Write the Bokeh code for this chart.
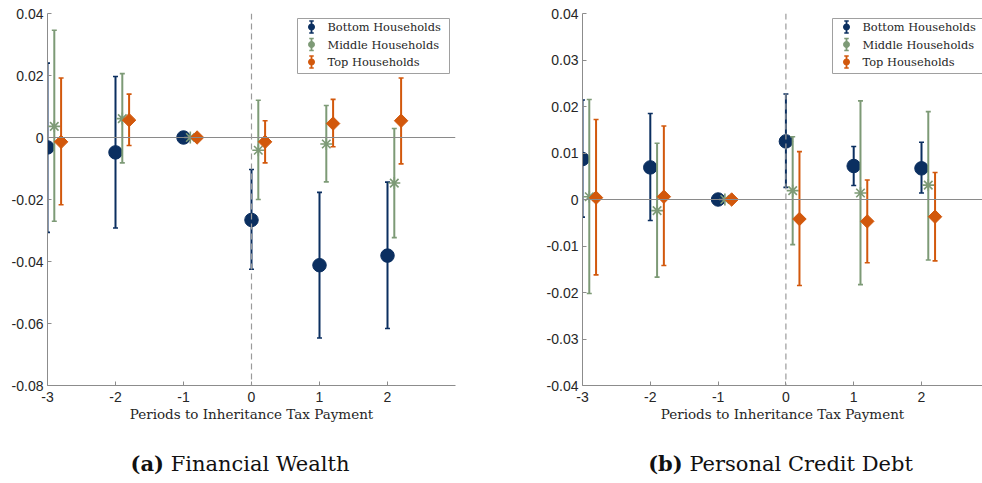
import numpy as np
from bokeh.plotting import figure
from bokeh.models import Span, FixedTicker, Range1d, Div, ColumnDataSource
from bokeh.layouts import row, column
from bokeh.core.properties import value
from bokeh.embed import file_html
from bokeh.resources import INLINE

# ---------------- data ----------------
periods = [-3, -2, -1, 0, 1, 2]
x_tick_labels = ["-3", "-2", "-1", "0", "1", "2"]
series_names = ["Bottom Households", "Middle Households", "Top Households"]

# (a) Financial Wealth
fw_bottom = [-0.0032, -0.0048, 0.0, -0.0266, -0.0412, -0.0381]
fw_bottom_lo = [-0.0306, -0.0292, 0.0, -0.0425, -0.0647, -0.0616]
fw_bottom_hi = [0.0240, 0.0197, 0.0, -0.0103, -0.0177, -0.0144]
fw_middle = [0.0036, 0.0061, 0.0, -0.0041, -0.0021, -0.0147]
fw_middle_lo = [-0.0270, -0.0082, 0.0, -0.0200, -0.0143, -0.0323]
fw_middle_hi = [0.0346, 0.0206, 0.0, 0.0120, 0.0103, 0.0029]
fw_top = [-0.0014, 0.0056, 0.0, -0.0014, 0.0045, 0.0054]
fw_top_lo = [-0.0217, -0.0026, 0.0, -0.0082, -0.0030, -0.0085]
fw_top_hi = [0.0192, 0.0140, 0.0, 0.0054, 0.0123, 0.0192]
fw_y_ticks = [-0.08, -0.06, -0.04, -0.02, 0.0, 0.02, 0.04]
fw_y_labels = ["-0.08", "-0.06", "-0.04", "-0.02", "0", "0.02", "0.04"]

# (b) Personal Credit Debt
cd_bottom = [0.0087, 0.0069, 0.0, 0.0125, 0.0072, 0.0067]
cd_bottom_lo = [-0.0038, -0.0045, 0.0, 0.0026, 0.0030, 0.0014]
cd_bottom_hi = [0.0214, 0.0185, 0.0, 0.0227, 0.0114, 0.0123]
cd_middle = [0.0006, -0.0024, 0.0, 0.0019, 0.0014, 0.0031]
cd_middle_lo = [-0.0202, -0.0167, 0.0, -0.0097, -0.0183, -0.0130]
cd_middle_hi = [0.0215, 0.0121, 0.0, 0.0135, 0.0212, 0.0189]
cd_top = [0.0004, 0.0006, 0.0, -0.0042, -0.0047, -0.0037]
cd_top_lo = [-0.0162, -0.0142, 0.0, -0.0185, -0.0136, -0.0132]
cd_top_hi = [0.0172, 0.0158, 0.0, 0.0103, 0.0042, 0.0058]
cd_y_ticks = [-0.04, -0.03, -0.02, -0.01, 0.0, 0.01, 0.02, 0.03, 0.04]
cd_y_labels = ["-0.04", "-0.03", "-0.02", "-0.01", "0", "0.01", "0.02", "0.03", "0.04"]

# ---------------- style ----------------
COLORS = ["#0b2f60", "#7d9a76", "#d2580c"]
OFFSETS = [0.0, 0.1, 0.2]
TICK_FONT = "Liberation Sans"
SERIF = "DejaVu Serif"
TXT = "#262626"
AX = "#8c8c8c"


def make_panel(series, y_start, y_end, y_ticks, y_labels, x_end, frame_w,
               border_left, border_right):
    W = border_left + frame_w + border_right
    H = 440
    top_b, bot_b = 13, 55
    frame_h = H - top_b - bot_b
    x_start = -3.0
    p = figure(width=W, height=H, output_backend="svg", toolbar_location=None,
               x_range=Range1d(x_start, x_end), y_range=Range1d(y_start, y_end),
               min_border_left=border_left, min_border_right=border_right,
               min_border_top=top_b, min_border_bottom=bot_b)
    p.xgrid.visible = False
    p.ygrid.visible = False
    p.outline_line_color = None
    p.background_fill_color = "white"
    p.border_fill_color = "white"

    for ax in (p.xaxis[0], p.yaxis[0]):
        ax.axis_line_color = AX
        ax.major_tick_line_color = AX
        ax.minor_tick_line_color = None
        ax.major_tick_in = 4
        ax.major_tick_out = 0
        ax.major_label_text_font = TICK_FONT
        ax.major_label_text_font_size = "14px"
        ax.major_label_text_color = TXT
    p.xaxis.ticker = FixedTicker(ticks=periods)
    p.xaxis.major_label_overrides = {k: v for k, v in zip(periods, x_tick_labels)}
    p.xaxis.major_label_standoff = 6
    p.xaxis.axis_label = "Periods to Inheritance Tax Payment"
    p.xaxis.axis_label_text_font = SERIF
    p.xaxis.axis_label_text_font_style = "normal"
    p.xaxis.axis_label_text_font_size = "13.5px"
    p.xaxis.axis_label_text_color = TXT
    p.xaxis.axis_label_standoff = 1
    p.yaxis.ticker = FixedTicker(ticks=y_ticks)
    p.yaxis.major_label_overrides = {k: v for k, v in zip(y_ticks, y_labels)}
    p.yaxis.major_label_standoff = 4

    p.add_layout(Span(location=0, dimension="width", line_color="#8a8a8a", line_width=1.2))
    p.add_layout(Span(location=0, dimension="height", line_color="#9a9a9a",
                      line_width=1.2, line_dash="6 4"))

    for i, (y, lo, hi) in enumerate(series):
        xs = [x + OFFSETS[i] for x in periods]
        src = ColumnDataSource(dict(x=xs, y=y, lo=lo, hi=hi))
        c = COLORS[i]
        p.segment(x0="x", y0="lo", x1="x", y1="hi", source=src, line_color=c, line_width=2)
        p.scatter(x="x", y="lo", source=src, marker="dash", size=5, line_color=c, line_width=1.6)
        p.scatter(x="x", y="hi", source=src, marker="dash", size=5, line_color=c, line_width=1.6)
        if i == 0:
            p.scatter(x="x", y="y", source=src, marker="circle", size=13.5,
                      fill_color=c, line_color=c)
        elif i == 1:
            p.scatter(x="x", y="y", source=src, marker="asterisk", size=12,
                      line_color=c, line_width=1.6)
        else:
            p.scatter(x="x", y="y", source=src, marker="square", angle=np.pi / 4,
                      size=9.5, fill_color=c, line_color=c)

    # ----- legend (placed in pixel offsets from the frame's top-left corner) -----
    def px_x(r):
        return x_start + r * (x_end - x_start) / frame_w

    def px_y(r):
        return y_end - r * (y_end - y_start) / frame_h

    p.quad(left=[px_x(250)], right=[px_x(402)], top=[px_y(5)], bottom=[px_y(60)],
           fill_color="white", line_color="#a0a0a0", line_width=1)
    rows = [13.5, 31, 48.5]
    for i, name in enumerate(series_names):
        c = COLORS[i]
        yc = rows[i]
        p.segment(x0=[px_x(264)], y0=[px_y(yc - 6)], x1=[px_x(264)], y1=[px_y(yc + 6)],
                  line_color=c, line_width=1.8)
        p.scatter(x=[px_x(264)] * 2, y=[px_y(yc - 6), px_y(yc + 6)], marker="dash",
                  size=4.5, line_color=c, line_width=1.5)
        p.scatter(x=[px_x(264)], y=[px_y(yc)], marker="circle", size=6,
                  fill_color=c, line_color=c)
        p.text(x=[px_x(280)], y=[px_y(yc)], text=[name], text_font=value(SERIF),
               text_font_size="11.4px", text_color=TXT, text_baseline="middle",
               text_align="left")
    return p


fw_series = [(fw_bottom, fw_bottom_lo, fw_bottom_hi),
             (fw_middle, fw_middle_lo, fw_middle_hi),
             (fw_top, fw_top_lo, fw_top_hi)]
cd_series = [(cd_bottom, cd_bottom_lo, cd_bottom_hi),
             (cd_middle, cd_middle_lo, cd_middle_hi),
             (cd_top, cd_top_lo, cd_top_hi)]

p1 = make_panel(fw_series, -0.08, 0.04, fw_y_ticks, fw_y_labels, 3.0, 408, 47, 36)
p2 = make_panel(cd_series, -0.04, 0.04, cd_y_ticks, cd_y_labels, -3.0 + 400 / 67.8, 400, 91, 0)

cap_style = ("font-family:'DejaVu Serif';font-size:21px;color:#111;"
             "line-height:24px;padding-top:12px;text-align:center;")
d1 = Div(text=f"<div style=\"{cap_style}width:480px;margin-left:0px;\"><b>(a)</b> Financial Wealth</div>",
         width=491, height=43, margin=0)
d2 = Div(text=f"<div style=\"{cap_style}width:403px;margin-left:88px;\"><b>(b)</b> Personal Credit Debt</div>",
         width=491, height=43, margin=0)

layout = column(row(p1, p2, spacing=0), row(d1, d2, spacing=0), spacing=0)
open("out.html", "w").write(file_html(layout, INLINE))
